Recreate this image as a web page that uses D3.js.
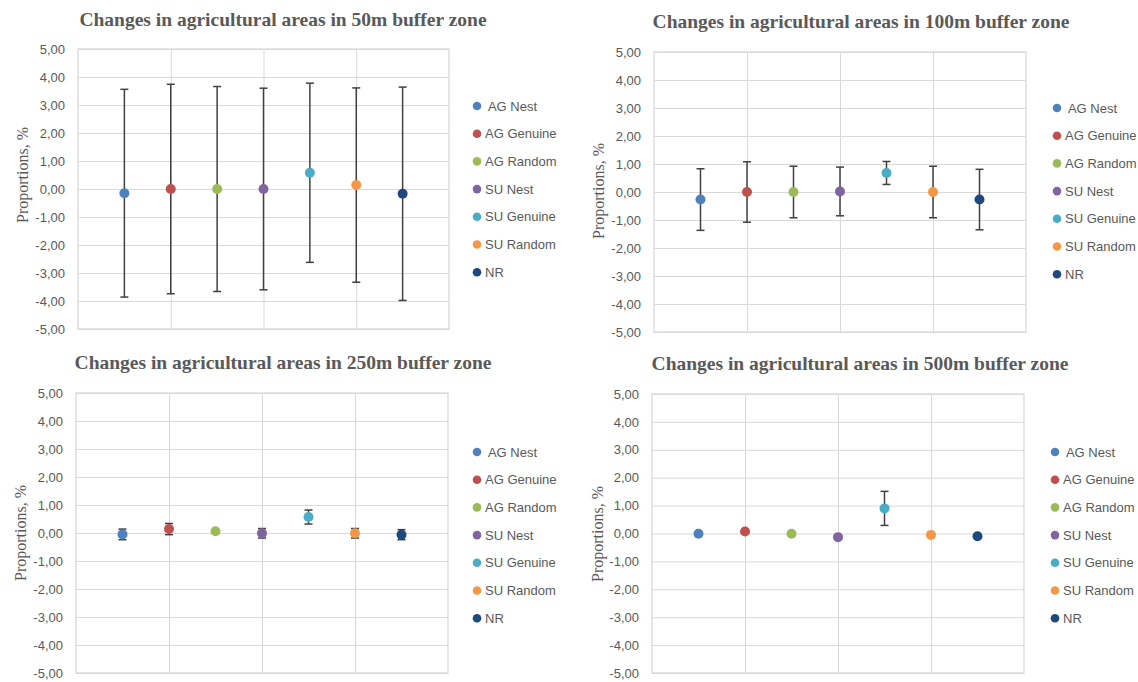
<!DOCTYPE html>
<html>
<head>
<meta charset="utf-8">
<script src="https://cdn.jsdelivr.net/npm/d3@7"></script>
<style>
  html, body { margin: 0; padding: 0; background: #ffffff; }
  svg { display: block; }
  .legend text { white-space: pre; }
</style>
</head>
<body>
<svg id="chart" width="1138" height="682"></svg>
<script>
// Series shared by all four buffer-zone panels
const categories = ["AG Nest", "AG Genuine", "AG Random", "SU Nest", "SU Genuine", "SU Random", "NR"];
const legendLabels = [" AG Nest", "AG Genuine", "AG Random", "SU Nest", "SU Genuine", "SU Random", "NR"];
const seriesColors = ["#4f81bd", "#c0504d", "#9bbb59", "#8064a2", "#4bacc6", "#f79646", "#1f497d"];

const zones = ["50m", "100m", "250m", "500m"];

// Mean change (%) per series, one array per buffer zone
const mean50  = [-0.15, 0.00, 0.00, 0.00, 0.58, 0.14, -0.17];
const mean100 = [-0.27, 0.00, 0.00, 0.02, 0.68, 0.00, -0.27];
const mean250 = [-0.05, 0.14, 0.06, -0.01, 0.57, -0.01, -0.06];
const mean500 = [-0.01, 0.07, -0.01, -0.13, 0.90, -0.05, -0.10];

// Error bar half-widths (%)
const err50  = [3.71, 3.74, 3.66, 3.60, 3.20, 3.47, 3.81];
const err100 = [1.10, 1.08, 0.92, 0.87, 0.41, 0.92, 1.08];
const err250 = [0.19, 0.20, 0.04, 0.17, 0.25, 0.17, 0.18];
const err500 = [0.03, 0.04, 0.03, 0.05, 0.61, 0.03, 0.04];

const yTickValues = [-5, -4, -3, -2, -1, 0, 1, 2, 3, 4, 5];
const xDomain = [0, 8];
const xGridValues = [2, 4, 6];

const means = [mean50, mean100, mean250, mean500];
const errs = [err50, err100, err250, err500];

// Panel geometry
const panels = [
  { left: 78,  top: 49,  w: 371, h: 280, titleX: 283, titleY: 26,  ylabX: 22,  ylabY: 175, legX: 477,  legY: 106 },
  { left: 654, top: 52,  w: 372, h: 280, titleX: 861, titleY: 28,  ylabX: 598, ylabY: 191, legX: 1057, legY: 108 },
  { left: 76,  top: 393, w: 372, h: 280, titleX: 283, titleY: 369, ylabX: 20,  ylabY: 533, legX: 477,  legY: 452 },
  { left: 652, top: 394, w: 372, h: 279, titleX: 860, titleY: 370, ylabX: 597, ylabY: 534, legX: 1055, legY: 452 }
];

const locale = d3.formatLocale({ decimal: ",", thousands: ".", grouping: [3], currency: ["", ""], minus: "-" });
const fmt = locale.format(".2f");

const textGray = "#595959";
const gridGray = "#d9d9d9";
const svg = d3.select("#chart");

panels.forEach((p, i) => {
  const g = svg.append("g").attr("transform", `translate(${p.left},${p.top})`);
  const x = d3.scaleLinear().domain(xDomain).range([0, p.w]);
  const y = d3.scaleLinear().domain([-5, 5]).range([p.h, 0]);

  // horizontal gridlines + tick labels
  const ya = g.append("g").call(
    d3.axisLeft(y).tickValues(yTickValues).tickSize(-p.w).tickPadding(13).tickFormat(fmt)
  );
  ya.select(".domain").remove();
  ya.selectAll("line").attr("stroke", gridGray).attr("stroke-width", 1);
  ya.selectAll("text")
    .attr("fill", textGray)
    .style("font-family", "'Liberation Sans', Arial, sans-serif")
    .style("font-size", "13px");

  // vertical gridlines
  const xa = g.append("g").attr("transform", `translate(0,${p.h})`).call(
    d3.axisBottom(x).tickValues(xGridValues).tickSize(-p.h).tickFormat("")
  );
  xa.select(".domain").remove();
  xa.selectAll("line").attr("stroke", gridGray).attr("stroke-width", 1);

  // plot border
  g.append("rect")
    .attr("x", 0).attr("y", 0).attr("width", p.w).attr("height", p.h)
    .attr("fill", "none").attr("stroke", gridGray).attr("stroke-width", 1.3);

  const rows = categories.map((c, k) => ({ name: c, xv: k + 1, m: means[i][k], e: errs[i][k], color: seriesColors[k] }));

  // error bars
  const eb = g.append("g").attr("stroke", "#404040").attr("stroke-width", 1.5).attr("fill", "none");
  const capHalf = 4;
  rows.forEach(d => {
    const cx = x(d.xv);
    const y1 = y(d.m + d.e), y0 = y(d.m - d.e);
    eb.append("line").attr("x1", cx).attr("x2", cx).attr("y1", y1).attr("y2", y0);
    eb.append("line").attr("x1", cx - capHalf).attr("x2", cx + capHalf).attr("y1", y1).attr("y2", y1);
    eb.append("line").attr("x1", cx - capHalf).attr("x2", cx + capHalf).attr("y1", y0).attr("y2", y0);
  });

  // markers
  g.append("g").selectAll("circle").data(rows).join("circle")
    .attr("cx", d => x(d.xv))
    .attr("cy", d => y(d.m))
    .attr("r", 5)
    .attr("fill", d => d.color);

  // title
  svg.append("text")
    .attr("x", p.titleX).attr("y", p.titleY)
    .attr("text-anchor", "middle")
    .attr("fill", textGray)
    .style("font-family", "'Liberation Serif', 'Times New Roman', serif")
    .style("font-weight", "bold")
    .style("font-size", "19.5px")
    .text(`Changes in agricultural areas in ${zones[i]} buffer zone`);

  // y axis title
  svg.append("text")
    .attr("transform", `translate(${p.ylabX},${p.ylabY}) rotate(-90)`)
    .attr("text-anchor", "middle")
    .attr("dy", "0.35em")
    .attr("fill", textGray)
    .style("font-family", "'Liberation Serif', 'Times New Roman', serif")
    .style("font-size", "16px")
    .text("Proportions, %");

  // legend
  const lg = svg.append("g").attr("class", "legend").attr("transform", `translate(${p.legX},${p.legY})`);
  const item = lg.selectAll("g").data(rows).join("g")
    .attr("transform", (d, k) => `translate(0,${k * 27.7})`);
  item.append("circle").attr("r", 4.3).attr("fill", d => d.color);
  item.append("text")
    .attr("x", 8).attr("dy", "0.35em")
    .attr("fill", textGray)
    .style("font-family", "'Liberation Sans', Arial, sans-serif")
    .style("font-size", "13px")
    .text((d, k) => legendLabels[k]);
});
</script>
</body>
</html>
